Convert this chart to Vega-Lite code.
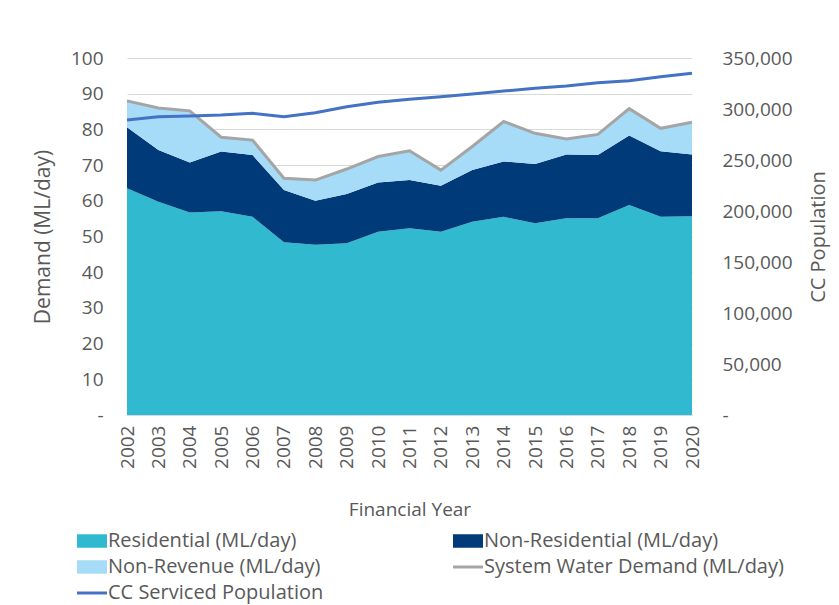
{
  "$schema": "https://vega.github.io/schema/vega-lite/v6.json",
  "autosize": {"type": "none"},
  "width": 565,
  "height": 357,
  "padding": {"left": 127, "top": 58, "right": 147, "bottom": 190},
  "background": "white",
  "config": {
    "font": "Open Sans",
    "view": {"stroke": null},
    "axis": {"labelColor": "#595959", "titleColor": "#595959", "labelFontSize": 19, "titleFontSize": 19, "titleFontWeight": "normal", "ticks": false, "domain": false, "gridColor": "#d9d9d9", "labelOverlap": false},
    "legend": {"labelColor": "#595959", "labelFontSize": 20}
  },
  "data": {"values": [
    {"year": "2002", "res": 63.5, "nonres": 17.1, "nonrev": 7.4, "system": 88.0, "pop": 289200},
    {"year": "2003", "res": 59.7, "nonres": 14.5, "nonrev": 11.8, "system": 86.0, "pop": 292500},
    {"year": "2004", "res": 56.7, "nonres": 14.0, "nonrev": 14.5, "system": 85.2, "pop": 293100},
    {"year": "2005", "res": 57.1, "nonres": 16.7, "nonrev": 4.0, "system": 77.8, "pop": 294100},
    {"year": "2006", "res": 55.5, "nonres": 17.3, "nonrev": 4.2, "system": 77.0, "pop": 295800},
    {"year": "2007", "res": 48.4, "nonres": 14.6, "nonrev": 3.3, "system": 66.3, "pop": 292500},
    {"year": "2008", "res": 47.7, "nonres": 12.3, "nonrev": 5.8, "system": 65.8, "pop": 296400},
    {"year": "2009", "res": 48.1, "nonres": 13.8, "nonrev": 7.0, "system": 68.9, "pop": 302300},
    {"year": "2010", "res": 51.3, "nonres": 13.8, "nonrev": 7.3, "system": 72.4, "pop": 306600},
    {"year": "2011", "res": 52.3, "nonres": 13.5, "nonrev": 8.2, "system": 74.0, "pop": 309600},
    {"year": "2012", "res": 51.3, "nonres": 12.9, "nonrev": 4.4, "system": 68.6, "pop": 312100},
    {"year": "2013", "res": 54.1, "nonres": 14.5, "nonrev": 6.6, "system": 75.2, "pop": 314700},
    {"year": "2014", "res": 55.5, "nonres": 15.5, "nonrev": 11.2, "system": 82.2, "pop": 317600},
    {"year": "2015", "res": 53.7, "nonres": 16.6, "nonrev": 8.6, "system": 78.9, "pop": 320300},
    {"year": "2016", "res": 55.1, "nonres": 17.9, "nonrev": 4.3, "system": 77.3, "pop": 322500},
    {"year": "2017", "res": 55.1, "nonres": 17.7, "nonrev": 5.8, "system": 78.6, "pop": 325800},
    {"year": "2018", "res": 58.8, "nonres": 19.5, "nonrev": 7.5, "system": 85.8, "pop": 327700},
    {"year": "2019", "res": 55.5, "nonres": 18.4, "nonrev": 6.4, "system": 80.3, "pop": 331700},
    {"year": "2020", "res": 55.7, "nonres": 17.3, "nonrev": 9.0, "system": 82.0, "pop": 335000}
  ]},
  "encoding": {
    "x": {"field": "year", "type": "ordinal", "scale": {"type": "point", "padding": 0},
      "axis": {"title": "Financial Year", "labelAngle": -90, "labelPadding": 10, "titlePadding": 32, "domain": true, "domainColor": "#d9d9d9"}}
  },
  "layer": [
    {
      "layer": [
        {
          "transform": [
            {"fold": ["res", "nonres", "nonrev"], "as": ["key", "value"]},
            {"lookup": "key", "from": {"data": {"values": [
              {"key": "res", "series": "Residential (ML/day)", "k": 1},
              {"key": "nonres", "series": "Non-Residential (ML/day)", "k": 2},
              {"key": "nonrev", "series": "Non-Revenue (ML/day)", "k": 3}
            ]}, "key": "key", "fields": ["series", "k"]}}
          ],
          "mark": {"type": "area", "opacity": 1},
          "encoding": {
            "y": {"field": "value", "type": "quantitative", "stack": "zero",
              "scale": {"domain": [0, 100], "nice": false},
              "axis": {"title": "Demand (ML/day)", "titleFontSize": 21, "values": [0, 10, 20, 30, 40, 50, 60, 70, 80, 90, 100], "labelExpr": "datum.value == 0 ? '-' : format(datum.value, 'd')", "labelPadding": 24, "titlePadding": 17}},
            "order": {"field": "k", "type": "quantitative"},
            "color": {"field": "series", "type": "nominal",
              "scale": {
                "domain": ["Residential (ML/day)", "Non-Residential (ML/day)", "Non-Revenue (ML/day)", "System Water Demand (ML/day)", "CC Serviced Population"],
                "range": ["#31b9d0", "#003a78", "#a6dcf7", "#a5a5a5", "#4472c4"]
              },
              "legend": {
                "title": null, "orient": "none", "legendX": -45, "legendY": 473,
                "direction": "horizontal", "columns": 2, "columnPadding": 123, "rowPadding": 6,
                "labelLimit": 0, "symbolSize": 900, "labelOffset": 6, "symbolStrokeWidth": 3,
                "encode": {"symbols": {"update": {
                  "shape": {"signal": "indexof(['System Water Demand (ML/day)', 'CC Serviced Population'], datum.value) >= 0 ? 'stroke' : 'M-1,-0.45L1,-0.45L1,0.45L-1,0.45Z'"},
                  "strokeWidth": {"signal": "indexof(['System Water Demand (ML/day)', 'CC Serviced Population'], datum.value) >= 0 ? 3 : 0"},
                  "opacity": {"value": 1}
                }}}
              }
            }
          }
        },
        {
          "mark": {"type": "line", "strokeWidth": 3},
          "encoding": {
            "y": {"field": "system", "type": "quantitative",
              "axis": {"title": "Demand (ML/day)", "titleFontSize": 21, "values": [0, 10, 20, 30, 40, 50, 60, 70, 80, 90, 100], "labelExpr": "datum.value == 0 ? '-' : format(datum.value, 'd')", "labelPadding": 24, "titlePadding": 17}},
            "color": {"datum": "System Water Demand (ML/day)",
              "legend": {
                "title": null, "orient": "none", "legendX": -45, "legendY": 473,
                "direction": "horizontal", "columns": 2, "columnPadding": 123, "rowPadding": 6,
                "labelLimit": 0, "symbolSize": 900, "labelOffset": 6, "symbolStrokeWidth": 3,
                "encode": {"symbols": {"update": {
                  "shape": {"signal": "indexof(['System Water Demand (ML/day)', 'CC Serviced Population'], datum.value) >= 0 ? 'stroke' : 'M-1,-0.45L1,-0.45L1,0.45L-1,0.45Z'"},
                  "strokeWidth": {"signal": "indexof(['System Water Demand (ML/day)', 'CC Serviced Population'], datum.value) >= 0 ? 3 : 0"},
                  "opacity": {"value": 1}
                }}}
              }}
          }
        }
      ]
    },
    {
      "mark": {"type": "line", "strokeWidth": 3},
      "encoding": {
        "y": {"field": "pop", "type": "quantitative",
          "scale": {"domain": [0, 350000], "nice": false},
          "axis": {"orient": "right", "title": "CC Population", "titleFontSize": 20, "titleAngle": 270, "grid": false, "values": [0, 50000, 100000, 150000, 200000, 250000, 300000, 350000], "labelExpr": "datum.value == 0 ? '-' : format(datum.value, ',')", "labelPadding": 30, "titlePadding": 36}},
        "color": {"datum": "CC Serviced Population",
          "legend": {
            "title": null, "orient": "none", "legendX": -45, "legendY": 473,
            "direction": "horizontal", "columns": 2, "columnPadding": 123, "rowPadding": 6,
            "labelLimit": 0, "symbolSize": 900, "labelOffset": 6, "symbolStrokeWidth": 3,
            "encode": {"symbols": {"update": {
              "shape": {"signal": "indexof(['System Water Demand (ML/day)', 'CC Serviced Population'], datum.value) >= 0 ? 'stroke' : 'M-1,-0.45L1,-0.45L1,0.45L-1,0.45Z'"},
              "strokeWidth": {"signal": "indexof(['System Water Demand (ML/day)', 'CC Serviced Population'], datum.value) >= 0 ? 3 : 0"},
              "opacity": {"value": 1}
            }}}
          }}
      }
    }
  ],
  "resolve": {"scale": {"y": "independent"}, "axis": {"y": "independent"}}
}
